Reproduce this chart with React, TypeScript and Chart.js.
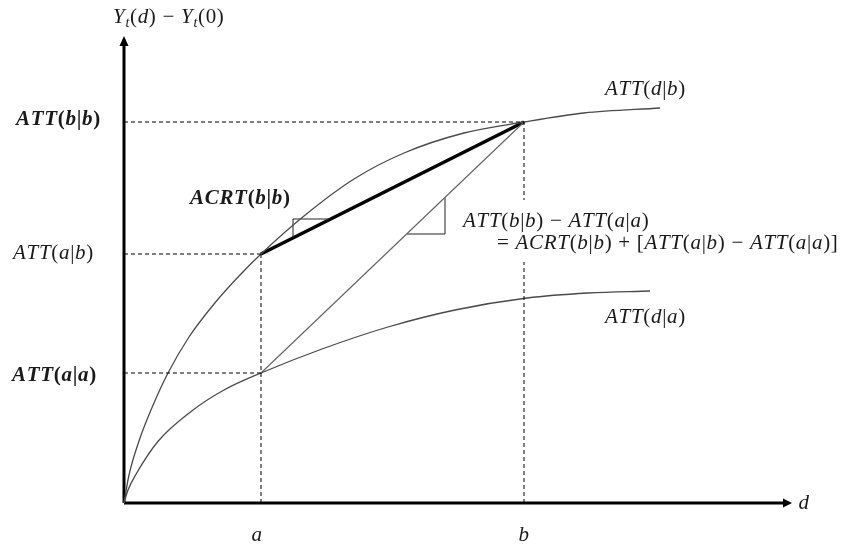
import { useEffect, useRef } from 'react';
import { Chart, registerables } from 'chart.js';

Chart.register(...registerables);

// ---- Key values (abstract units) ----
const A_POS = 1.37; // d = a
const B_POS = 4.0; // d = b
const ATT_AA = 1.3;
const ATT_AB = 2.49;
const ATT_BB = 3.81;

// ---- ATT(d|b) curve ----
const upperD = [0, 0.05, 0.15, 0.3, 0.44, 0.65, 0.9, 1.15, 1.37, 1.8, 2.3, 2.8, 3.4, 4.0, 4.6, 5.36];
const upperY = [0, 0.28, 0.62, 1.0, 1.3, 1.66, 1.99, 2.27, 2.49, 2.87, 3.24, 3.5, 3.7, 3.81, 3.9, 3.95];

// ---- ATT(d|a) curve ----
const lowerD = [0, 0.04, 0.127, 0.343, 0.677, 1.0, 1.37, 1.98, 2.64, 3.31, 4.03, 4.64, 5.26];
const lowerY = [0, 0.13, 0.3, 0.62, 0.92, 1.13, 1.3, 1.54, 1.76, 1.93, 2.05, 2.1, 2.12];

// ---- slope triangles ----
const triAD = [1.69, 1.69, 2.06];
const triAY = [2.65, 2.84, 2.84];
const triBD = [2.83, 3.21, 3.21];
const triBY = [2.69, 2.69, 3.05];

// ---- axes extents ----
const X_MIN = -1.24;
const X_MAX = 7.17;
const Y_MIN = -0.43;
const Y_MAX = 5.03;
const AXIS_X_END = 6.6;
const AXIS_X_TIP = 6.68;
const AXIS_Y_END = 4.58;
const AXIS_Y_TIP = 4.67;

// ---- white text box behind the equation (data units) ----
const EQ_BOX = { x0: 3.33, x1: 7.17, y0: 2.41, y1: 3.03 };

// ---- text labels ----
type Label = { text: string; x: number; y: number; align: 'left' | 'center' | 'right'; bold?: boolean };
const labels: Label[] = [
  { text: 'Y_t(d) − Y_t(0)', x: -0.11, y: 4.86, align: 'left' },
  { text: 'ATT(b|b)', x: -1.08, y: ATT_BB + 0.02, align: 'left', bold: true },
  { text: 'ATT(a|b)', x: -1.11, y: ATT_AB + 0.01, align: 'left' },
  { text: 'ATT(a|a)', x: -1.12, y: ATT_AA - 0.03, align: 'left', bold: true },
  { text: 'ACRT(b|b)', x: 0.66, y: 3.04, align: 'left', bold: true },
  { text: 'ATT(d|b)', x: 4.81, y: 4.14, align: 'left' },
  { text: 'ATT(d|a)', x: 4.81, y: 1.86, align: 'left' },
  { text: 'ATT(b|b) − ATT(a|a)', x: 3.39, y: 2.82, align: 'left' },
  { text: '= ACRT(b|b) + [ATT(a|b) − ATT(a|a)]', x: 3.73, y: 2.6, align: 'left' },
  { text: 'a', x: A_POS - 0.04, y: -0.32, align: 'center' },
  { text: 'b', x: B_POS, y: -0.32, align: 'center' },
  { text: 'd', x: 6.8, y: 0, align: 'center' },
];

const FONT_FAMILY = '"Liberation Serif", "Times New Roman", serif';
const FONT_SIZE = 21;

function drawMath(ctx: CanvasRenderingContext2D, text: string, x: number, y: number, align: string, bold: boolean) {
  const tokens: { ch: string; sub: boolean }[] = [];
  for (let i = 0; i < text.length; i++) {
    let ch = text[i];
    let sub = false;
    if (ch === '_' && i + 1 < text.length) {
      ch = text[++i];
      sub = true;
    }
    tokens.push({ ch, sub });
  }
  const fontFor = (t: { ch: string; sub: boolean }) => {
    const italic = /[A-Za-z]/.test(t.ch);
    const size = t.sub ? Math.round(FONT_SIZE * 0.68) : FONT_SIZE;
    return `${italic ? 'italic ' : ''}${bold ? 'bold ' : ''}${size}px ${FONT_FAMILY}`;
  };
  const spacing = 0.7;
  const widths: number[] = [];
  let total = 0;
  for (const t of tokens) {
    ctx.font = fontFor(t);
    const w = ctx.measureText(t.ch).width + spacing;
    widths.push(w);
    total += w;
  }
  let cx = align === 'left' ? x : align === 'center' ? x - total / 2 : x - total;
  ctx.textBaseline = 'middle';
  ctx.textAlign = 'left';
  tokens.forEach((t, i) => {
    ctx.font = fontFor(t);
    ctx.fillText(t.ch, cx, y + (t.sub ? FONT_SIZE * 0.3 : 0));
    cx += widths[i];
  });
}

const overlayPlugin = {
  id: 'overlay',
  afterDatasetsDraw(chart: any) {
    const ctx: CanvasRenderingContext2D = chart.ctx;
    const xs = chart.scales.x;
    const ys = chart.scales.y;
    ctx.save();
    // white box behind the equation text
    const bx0 = xs.getPixelForValue(EQ_BOX.x0);
    const bx1 = xs.getPixelForValue(EQ_BOX.x1);
    const by0 = ys.getPixelForValue(EQ_BOX.y1);
    const by1 = ys.getPixelForValue(EQ_BOX.y0);
    ctx.fillStyle = '#fff';
    ctx.fillRect(bx0, by0, bx1 - bx0, by1 - by0);

    ctx.fillStyle = '#000';
    const ox = xs.getPixelForValue(0);
    const oy = ys.getPixelForValue(0);
    const yEnd = ys.getPixelForValue(AXIS_Y_END);
    const yTip = ys.getPixelForValue(AXIS_Y_TIP);
    ctx.beginPath();
    ctx.moveTo(ox, yTip);
    ctx.lineTo(ox - 4.5, yEnd + 1);
    ctx.lineTo(ox + 4.5, yEnd + 1);
    ctx.closePath();
    ctx.fill();
    const xEnd = xs.getPixelForValue(AXIS_X_END);
    const xTip = xs.getPixelForValue(AXIS_X_TIP);
    ctx.beginPath();
    ctx.moveTo(xTip, oy);
    ctx.lineTo(xEnd - 1, oy - 4.5);
    ctx.lineTo(xEnd - 1, oy + 4.5);
    ctx.closePath();
    ctx.fill();
    ctx.fillStyle = '#1a1a1a';
    for (const l of labels) {
      drawMath(ctx, l.text, xs.getPixelForValue(l.x), ys.getPixelForValue(l.y), l.align, !!l.bold);
    }
    ctx.restore();
  },
};

const pts = (xs: number[], ys: number[]) => xs.map((x, i) => ({ x, y: ys[i] }));

export default function App() {
  const ref = useRef<HTMLCanvasElement | null>(null);
  useEffect(() => {
    document.body.style.margin = '0';
    const canvas = ref.current;
    if (!canvas) return;
    const line = (data: { x: number; y: number }[], color: string, width: number, dash: number[] = [], smooth = false) => ({
      data,
      showLine: true,
      borderColor: color,
      backgroundColor: color,
      borderWidth: width,
      borderDash: dash,
      pointRadius: 0,
      fill: false,
      cubicInterpolationMode: smooth ? 'monotone' : 'default',
      tension: 0,
      borderCapStyle: 'butt',
    });
    const dash = [4, 3];
    const chart = new Chart(canvas, {
      type: 'scatter',
      data: {
        datasets: [
          line(pts([0, B_POS], [ATT_BB, ATT_BB]), '#000', 1, dash),
          line(pts([0, A_POS], [ATT_AB, ATT_AB]), '#000', 1, dash),
          line(pts([0, A_POS], [ATT_AA, ATT_AA]), '#000', 1, dash),
          line(pts([A_POS, A_POS], [0, ATT_AB]), '#000', 1, dash),
          line(pts([B_POS, B_POS], [0, ATT_BB]), '#000', 1, dash),
          line(pts(upperD, upperY), '#4a4a4a', 1.3, [], true),
          line(pts(lowerD, lowerY), '#4a4a4a', 1.3, [], true),
          line(pts([A_POS, B_POS], [ATT_AA, ATT_BB]), '#666', 1.2),
          line(pts(triAD, triAY), '#222', 1),
          line(pts(triBD, triBY), '#222', 1),
          line(pts([A_POS, B_POS], [ATT_AB, ATT_BB]), '#000', 3.4),
          line(pts([0, 0], [0, AXIS_Y_END]), '#000', 3),
          line(pts([0, AXIS_X_END], [0, 0]), '#000', 3),
        ] as any,
      },
      options: {
        animation: false,
        responsive: false,
        maintainAspectRatio: false,
        layout: { padding: 0 },
        plugins: { legend: { display: false }, tooltip: { enabled: false } },
        events: [],
        scales: {
          x: { type: 'linear', display: false, min: X_MIN, max: X_MAX },
          y: { type: 'linear', display: false, min: Y_MIN, max: Y_MAX },
        },
      },
      plugins: [overlayPlugin],
    });
    return () => chart.destroy();
  }, []);
  return (
    <div style={{ position: 'absolute', left: 0, top: 0, width: 841, height: 546, background: '#fff' }}>
      <canvas ref={ref} width={841} height={546} style={{ width: 841, height: 546 }} />
    </div>
  );
}
